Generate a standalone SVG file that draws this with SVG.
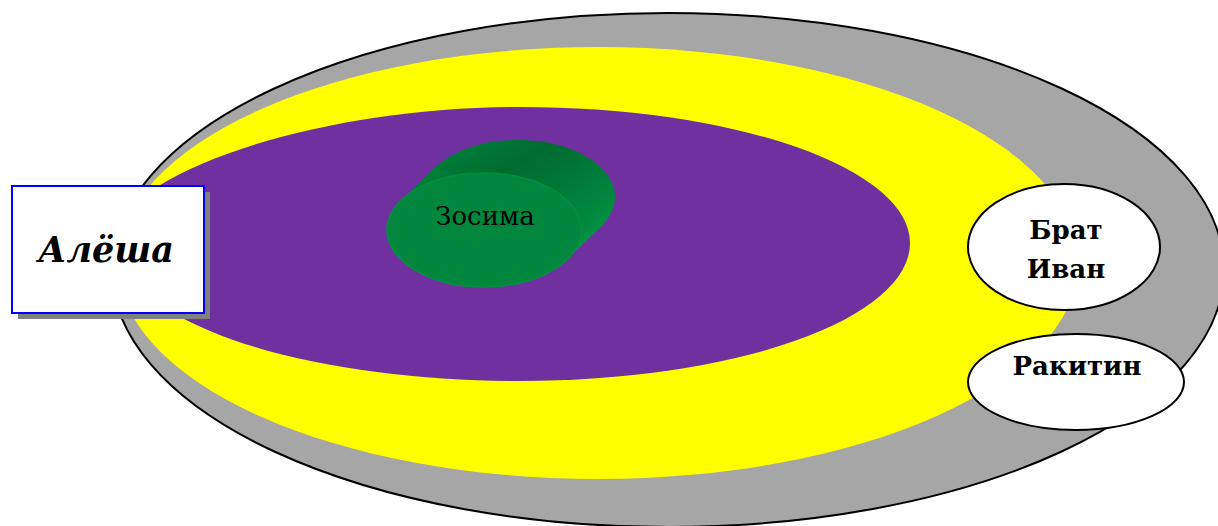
<svg xmlns="http://www.w3.org/2000/svg" width="1218" height="526" viewBox="0 0 1218 526">
<defs>
<linearGradient id="cyl" x1="0" y1="0" x2="1" y2="1">
<stop offset="0" stop-color="#00883c"/>
<stop offset="0.35" stop-color="#006b30"/>
<stop offset="0.75" stop-color="#00873d"/>
<stop offset="1" stop-color="#00a24c"/>
</linearGradient>
</defs>
<style>
.lbl{font-family:"DejaVu Serif","Liberation Serif",serif;fill:#000;text-anchor:middle}
.b{font-weight:bold;font-size:26px}
.node{fill:#fff;stroke:#000;stroke-width:2}
</style>
<g id="outer">
<ellipse cx="668" cy="270" rx="556" ry="257" fill="#a6a6a6" stroke="#000" stroke-width="2"/>
</g>
<g id="yellow">
<ellipse cx="598" cy="263" rx="480" ry="216" fill="#ffff00"/>
</g>
<g id="purple">
<path d="M105,240 C140,160 340,107 520,107 A390 136 0 0 1 910 243 A390 138 0 0 1 520 381 C340,381 140,340 105,240 Z" fill="#7030a0"/>
</g>
<g id="zosima">
<ellipse cx="518" cy="197" rx="97" ry="57" fill="url(#cyl)"/>
<polygon points="401.1,200.5 435.1,167.5 600.9,226.5 566.9,259.5" fill="url(#cyl)"/>
<ellipse cx="484" cy="230" rx="97" ry="57" fill="#00873d" stroke="#00903f" stroke-width="1.5"/>
<text class="lbl" x="485" y="225" font-size="26">Зосима</text>
</g>
<g id="alesha">
<rect x="18" y="192" width="192" height="127" fill="#808080"/>
<rect x="12" y="186" width="192" height="127" fill="#fff" stroke="#0000ff" stroke-width="2"/>
<text class="lbl" x="106" y="262" font-size="35" font-weight="bold" font-style="italic">Алёша</text>
</g>
<g id="ivan">
<ellipse class="node" cx="1064" cy="247" rx="96" ry="63"/>
<text class="lbl b" x="1066" y="239">Брат</text>
<text class="lbl b" x="1066" y="278">Иван</text>
</g>
<g id="rakitin">
<ellipse class="node" cx="1076" cy="382" rx="108" ry="48"/>
<text class="lbl b" x="1077" y="375" font-size="27">Ракитин</text>
</g>
<g id="connectors"/>
</svg>
